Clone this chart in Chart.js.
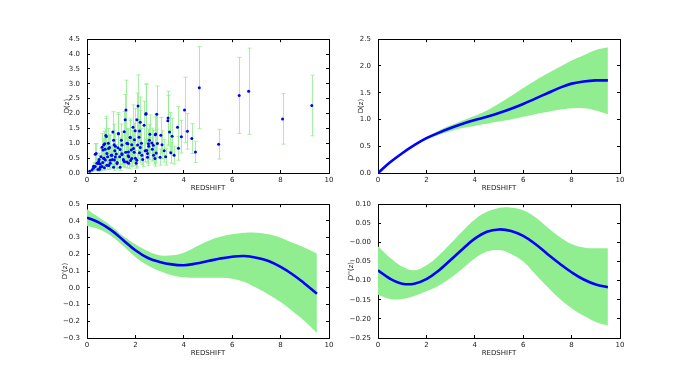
<!DOCTYPE html>
<html>
<head>
<meta charset="utf-8">
<script src="https://cdn.jsdelivr.net/npm/chart.js@4.4.0/dist/chart.umd.min.js"></script>
<style>
  body { margin: 0; background: #fff; }
  #wrap { position: relative; width: 689px; height: 376px; overflow: hidden; }
  canvas { position: absolute; }
</style>
</head>
<body>
<div id="wrap">
  <canvas id="c1" style="left:40px;top:25px" width="300" height="170"></canvas>
  <canvas id="c2" style="left:331px;top:25px" width="300" height="170"></canvas>
  <canvas id="c3" style="left:40px;top:190px" width="300" height="170"></canvas>
  <canvas id="c4" style="left:331px;top:190px" width="300" height="170"></canvas>
</div>
<script>
// scatter: redshift, D(z), error half-width
const obsZ = [4.64, 5.44, 6.29, 6.68, 8.08, 9.29, 4.48, 4.33, 4.15, 4.03, 3.9, 3.74, 3.78, 3.6, 3.52, 3.41, 3.35, 3.34, 3.46, 3.19,
  3.02, 3.05, 2.88, 2.82, 2.91, 2.86, 2.68, 2.58, 2.5, 2.5, 2.44, 2.36, 2.2, 2.11, 2.17, 2.06, 2.2, 2.17, 2.03, 2.09,
  1.96, 1.9, 1.79, 1.83, 1.73, 1.72, 1.61, 1.58, 1.54, 1.44, 1.37, 1.3, 1.17, 1.21, 1.13, 1.1, 1.07, 0.96, 0.93, 0.82,
  0.8, 0.76, 0.69, 0.66, 0.62, 0.58, 0.48, 0.41, 0.38, 0.34, 0.27, 0.21, 0.11,
  0.5, 0.55, 0.7, 0.75, 0.85, 0.9, 1.0, 1.05, 1.15, 1.25, 1.35, 1.45, 1.5, 1.6, 1.65, 1.7, 1.85, 1.95, 2.0, 2.25,
  2.3, 2.4, 2.55, 2.7, 2.75, 3.1, 3.25, 0.45, 0.52, 0.65, 0.72, 0.88, 1.12, 1.28, 1.55, 1.42, 1.8, 2.15, 2.6,
  0.34, 0.73, 0.78, 0.89, 1.03, 1.3, 1.69, 1.78, 1.99, 2.43, 2.84, 2.54, 0.48, 0.55, 0.69, 0.96, 1.17, 1.24, 1.44, 1.51,
  1.71, 1.85, 1.92, 2.06, 2.27, 2.47, 2.74, 2.81, 0.27, 0.82, 1.1, 1.37, 1.65, 0.62];
const obsD = [2.87, 0.97, 2.61, 2.75, 1.82, 2.27, 0.71, 1.16, 1.4, 2.12, 1.22, 1.54, 0.83, 0.6, 1.24, 1.38, 1.85, 1.76, 0.68, 0.75,
  0.53, 1.27, 1.98, 1.29, 0.99, 0.67, 1.01, 1.1, 0.66, 0.53, 2.0, 1.61, 1.71, 2.25, 1.41, 1.79, 0.86, 0.68, 0.33, 0.94,
  1.12, 1.54, 1.19, 0.77, 0.55, 0.33, 2.12, 1.79, 1.39, 0.94, 0.79, 1.32, 0.9, 0.64, 0.44, 1.1, 1.38, 0.33, 0.86, 0.66,
  1.23, 0.44, 0.94, 0.77, 0.22, 0.55, 0.39, 0.33, 0.66, 0.22, 0.17, 0.11, 0.06,
  0.45, 0.3, 0.5, 0.8, 0.55, 0.25, 0.6, 0.45, 0.75, 0.35, 0.55, 0.62, 0.45, 0.7, 1.0, 0.58, 0.95, 0.7, 0.5, 1.0,
  0.45, 0.75, 0.9, 0.8, 0.6, 0.95, 0.55, 0.12, 0.13, 0.35, 0.18, 1.0, 0.95, 0.85, 0.38, 1.1, 0.42, 1.2, 1.3,
  0.63, 0.98, 1.26, 0.82, 0.6, 1.33, 0.98, 1.2, 1.42, 1.98, 1.31, 0.98, 0.32, 0.19, 0.49, 0.43, 0.54, 0.32, 0.65, 0.43,
  0.71, 0.49, 0.82, 0.43, 0.6, 0.76, 0.93, 0.49, 0.23, 0.26, 0.19, 0.19, 0.37, 0.87];
const obsErr = [1.38, 0.5, 1.28, 1.45, 0.85, 1.02, 0.36, 0.5, 0.6, 1.1, 0.55, 0.7, 0.4, 0.3, 0.6, 0.65, 0.9, 0.85, 0.35, 0.38,
  0.27, 0.6, 0.95, 0.6, 0.48, 0.33, 0.5, 0.52, 0.33, 0.27, 1.0, 0.8, 0.85, 1.05, 0.7, 0.9, 0.42, 0.34, 0.17, 0.46,
  0.55, 0.75, 0.58, 0.38, 0.28, 0.17, 1.0, 0.85, 0.68, 0.46, 0.39, 0.65, 0.44, 0.32, 0.22, 0.54, 0.68, 0.17, 0.42, 0.33,
  0.6, 0.22, 0.46, 0.38, 0.11, 0.28, 0.2, 0.17, 0.33, 0.11, 0.09, 0.06, 0.03,
  0.22, 0.15, 0.25, 0.4, 0.28, 0.13, 0.3, 0.22, 0.38, 0.18, 0.28, 0.31, 0.23, 0.35, 0.5, 0.29, 0.47, 0.35, 0.25, 0.5,
  0.23, 0.37, 0.45, 0.4, 0.3, 0.47, 0.28, 0.06, 0.07, 0.18, 0.09, 0.5, 0.47, 0.42, 0.19, 0.55, 0.21, 0.6, 0.65,
  0.35, 0.5, 0.65, 0.45, 0.32, 0.7, 0.5, 0.62, 0.75, 1.0, 0.68, 0.5, 0.17, 0.1, 0.26, 0.23, 0.3, 0.17, 0.35, 0.23,
  0.38, 0.26, 0.44, 0.23, 0.32, 0.4, 0.5, 0.26, 0.12, 0.14, 0.1, 0.1, 0.2, 0.46];

// reconstructed curves
const zGrid = [0, 0.5, 1, 1.5, 2, 2.5, 3, 3.5, 4, 4.5, 5, 5.5, 6, 6.5, 7, 7.5, 8, 8.5, 9, 9.5];
const dMean = [0.0, 0.2, 0.37, 0.52, 0.65, 0.75, 0.84, 0.92, 0.99, 1.05, 1.12, 1.2, 1.29, 1.39, 1.49, 1.59, 1.67, 1.71, 1.73, 1.73];
const dUpper = [0.02, 0.21, 0.38, 0.53, 0.67, 0.79, 0.89, 0.98, 1.07, 1.17, 1.3, 1.44, 1.59, 1.73, 1.86, 1.98, 2.1, 2.2, 2.3, 2.35];
const dLower = [-0.01, 0.19, 0.36, 0.51, 0.62, 0.71, 0.78, 0.84, 0.88, 0.92, 0.96, 1.0, 1.05, 1.1, 1.14, 1.18, 1.21, 1.21, 1.17, 1.1];

const d1Mean = [0.42, 0.39, 0.345, 0.285, 0.225, 0.18, 0.155, 0.14, 0.135, 0.145, 0.16, 0.175, 0.186, 0.19, 0.18, 0.16, 0.125, 0.08, 0.025, -0.035];
const d1Upper = [0.47, 0.42, 0.37, 0.31, 0.26, 0.22, 0.195, 0.195, 0.21, 0.245, 0.28, 0.305, 0.32, 0.33, 0.33, 0.32, 0.3, 0.27, 0.24, 0.205];
const d1Lower = [0.37, 0.35, 0.31, 0.25, 0.185, 0.135, 0.1, 0.075, 0.063, 0.06, 0.06, 0.06, 0.055, 0.035, 0.0, -0.04, -0.085, -0.14, -0.2, -0.27];

const d2Mean = [-0.073, -0.095, -0.108, -0.108, -0.096, -0.074, -0.046, -0.017, 0.01, 0.028, 0.034, 0.03, 0.017, -0.004, -0.03, -0.055, -0.078, -0.097, -0.11, -0.117];
const d2Upper = [-0.01, -0.04, -0.063, -0.073, -0.06, -0.035, -0.003, 0.03, 0.06, 0.08, 0.09, 0.091, 0.084, 0.066, 0.04, 0.015, -0.004, -0.013, -0.015, -0.015];
const d2Lower = [-0.137, -0.148, -0.148, -0.14, -0.128, -0.113, -0.093, -0.068, -0.042, -0.024, -0.02, -0.03, -0.05, -0.083, -0.116, -0.147, -0.172, -0.192, -0.208, -0.218];

const GREEN = '#90ee90';
const BLUE = '#0000ff';
const FONT = { family: 'DejaVu Sans', size: 7 };

function pts(xs, ys) {
  return xs.map((x, i) => ({ x: x, y: ys[i] }));
}

// vertical error bars with caps for the observed points
const errorBars = {
  id: 'errorBars',
  beforeDatasetsDraw(chart) {
    if (!chart.options.plugins.errorBars) return;
    const xs = chart.scales.x, ys = chart.scales.y;
    const c = chart.ctx;
    c.save();
    c.strokeStyle = 'rgba(144,238,144,0.8)';
    c.lineWidth = 1;
    c.beginPath();
    obsZ.forEach((z, i) => {
      const px = Math.round(xs.getPixelForValue(z)) + 0.5;
      const top = ys.getPixelForValue(obsD[i] + obsErr[i]);
      const bot = ys.getPixelForValue(Math.max(obsD[i] - obsErr[i], 0));
      c.moveTo(px, top); c.lineTo(px, bot);
      c.moveTo(px - 2, top); c.lineTo(px + 2, top);
      c.moveTo(px - 2, bot); c.lineTo(px + 2, bot);
    });
    c.stroke();
    c.restore();
  }
};

function fmt(dec) {
  return v => {
    const s = Number(v).toFixed(dec);
    return s.replace('-', '\u2212');
  };
}

// frame lines and inward tick marks come from the axes themselves
const tickGrid = { display: true, drawOnChartArea: false, drawTicks: true, tickLength: -3, color: '#000', lineWidth: 1 };
const frameBorder = { display: true, color: '#000', width: 1 };

function axes(yLabel, yMin, yMax, yStep, dec, yWidth) {
  return {
    x: {
      type: 'linear', position: 'bottom', min: 0, max: 10,
      grid: tickGrid, border: frameBorder,
      ticks: { stepSize: 2, font: FONT, color: '#222', padding: 6, maxRotation: 0, callback: v => String(v) },
      title: { display: true, text: 'REDSHIFT', font: FONT, color: '#222', padding: { top: 0, bottom: 3 } },
      afterFit(s) { s.height = 22; }
    },
    xTop: {
      type: 'linear', position: 'top', min: 0, max: 10,
      grid: tickGrid, border: frameBorder,
      ticks: { stepSize: 2, display: false },
      afterFit(s) { s.height = 0; }
    },
    y: {
      type: 'linear', position: 'left', min: yMin, max: yMax,
      grid: tickGrid, border: frameBorder,
      ticks: { stepSize: yStep, font: FONT, color: '#222', padding: 10, callback: fmt(dec) },
      title: { display: true, text: yLabel, font: FONT, color: '#222', padding: { top: 2, bottom: 0 } },
      afterFit(s) { s.width = yWidth; }
    },
    yRight: {
      type: 'linear', position: 'right', min: yMin, max: yMax,
      grid: tickGrid, border: frameBorder,
      ticks: { stepSize: yStep, display: false },
      afterFit(s) { s.width = 0; }
    }
  };
}

// padLeft places the rotated y title; the plot area always starts 47px into the canvas
function baseOptions(yLabel, yMin, yMax, yStep, dec, padLeft) {
  return {
    responsive: false,
    animation: false,
    layout: { padding: { left: padLeft, right: 11, top: 12, bottom: 0 } },
    plugins: { legend: { display: false }, tooltip: { enabled: false } },
    scales: axes(yLabel, yMin, yMax, yStep, dec, 47 - padLeft)
  };
}

function bandChart(id, yLabel, mean, upper, lower, yMin, yMax, yStep, dec, padLeft) {
  new Chart(document.getElementById(id), {
    type: 'line',
    data: {
      datasets: [
        { data: pts(zGrid, mean), borderColor: BLUE, borderWidth: 2.6, pointRadius: 0, tension: 0.4, fill: false },
        { data: pts(zGrid, upper), borderWidth: 0, borderColor: GREEN, backgroundColor: GREEN, pointRadius: 0, tension: 0.4, fill: '+1' },
        { data: pts(zGrid, lower), borderWidth: 0, borderColor: GREEN, pointRadius: 0, tension: 0.4, fill: false }
      ]
    },
    options: baseOptions(yLabel, yMin, yMax, yStep, dec, padLeft)
  });
}

// top-left: observed data with error bars
const opt1 = baseOptions('D(z)', 0, 4.5, 0.5, 1, 21);
opt1.plugins.errorBars = true;
new Chart(document.getElementById('c1'), {
  type: 'scatter',
  data: {
    datasets: [{ data: pts(obsZ, obsD), backgroundColor: BLUE, borderColor: BLUE, pointRadius: 1.5, borderWidth: 0 }]
  },
  options: opt1,
  plugins: [errorBars]
});

bandChart('c2', 'D(z)', dMean, dUpper, dLower, 0, 2.5, 0.5, 1, 24);
bandChart('c3', "D'(z)", d1Mean, d1Upper, d1Lower, -0.3, 0.5, 0.1, 1, 19);
bandChart('c4', "D''(z)", d2Mean, d2Upper, d2Lower, -0.25, 0.1, 0.05, 2, 14);
</script>
</body>
</html>
